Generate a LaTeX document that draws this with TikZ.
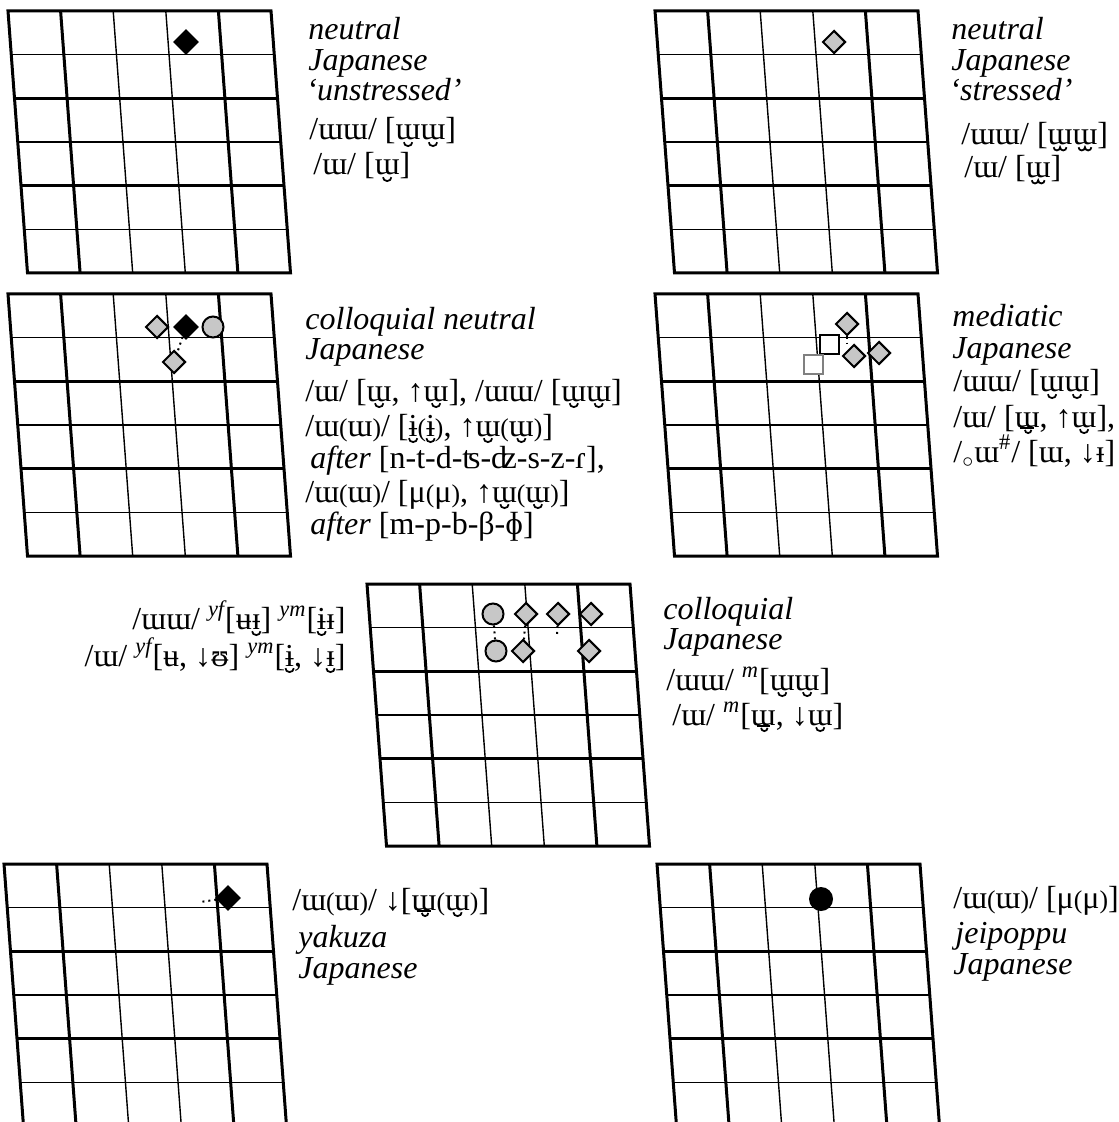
\documentclass[tikz,border=0pt]{standalone}
\usepackage{fontspec}
\setmainfont{Liberation Serif}
\usetikzlibrary{shapes.geometric, positioning}

\tikzset{
  gridthick/.style={line width=1.5pt},
  gridthin/.style={line width=0.7pt},
  vlabel/.style={anchor=base west, inner sep=0pt, font=\fontsize{16}{19}\selectfont\itshape},
  ipa/.style={anchor=base west, inner sep=0pt, font=\fontsize{16}{19}\selectfont},
  blackd/.style={diamond, fill=black, inner sep=0pt, minimum size=13pt},
  grayd/.style={diamond, draw, line width=1pt, fill=black!22, inner sep=0pt, minimum size=11.5pt},
  grayc/.style={circle, draw, line width=1pt, fill=black!22, inner sep=0pt, minimum size=10.5pt},
  blackc/.style={circle, fill=black, inner sep=0pt, minimum size=12pt},
  opens/.style={rectangle, draw, line width=1pt, fill=white, inner sep=0pt, minimum size=9.5pt},
  grays/.style={rectangle, draw=black!50, line width=1pt, fill=white, inner sep=0pt, minimum size=9.5pt},
  dotline/.style={line width=1pt, dash pattern=on 1pt off 2pt},
  diac/.style={line width=0.055em},
}

% skewed 5x6 vowel chart, origin at its top left corner
\newcommand{\vowelgrid}{%
  \foreach \i in {2,3}
    \draw[gridthin] (\i*52.6,0) -- (\i*52.6+19.5,262);
  \foreach \j in {1,3,5}
    \draw[gridthin] (\j*3.25,\j*43.67) -- (\j*3.25+263,\j*43.67);
  \foreach \i in {1,4}
    \draw[gridthick] (\i*52.6,0) -- (\i*52.6+19.5,262);
  \foreach \j in {2,4}
    \draw[gridthick] (\j*3.25,\j*43.67) -- (\j*3.25+263,\j*43.67);
  \draw[gridthick] (0,0) -- (263,0) -- (282.5,262) -- (19.5,262) -- cycle;
}
\newcommand{\smpar}[1]{\scalebox{0.8}{#1}}
% marks below a letter: breve, double breve, bar with breve
\newcommand{\cupb}[1]{\ooalign{#1\cr\hidewidth\tikz[baseline=0.07em, x=1em, y=1em]
  \draw[diac] (0,0) arc (180:360:0.13 and 0.12);\hidewidth\cr}}
\newcommand{\wb}[1]{\ooalign{#1\cr\hidewidth\tikz[baseline=0.07em, x=1em, y=1em]
  \draw[diac] (0,0) arc (180:360:0.1 and 0.1) arc (180:360:0.1 and 0.1);\hidewidth\cr}}
\newcommand{\barb}[1]{\ooalign{#1\cr\hidewidth\tikz[baseline=0.02em, x=1em, y=1em]
  {\draw[diac] (-0.08,0) -- (0.34,0); \draw[diac] (0.06,-0.07) arc (180:360:0.1 and 0.1);}\hidewidth\cr}}

\begin{document}
\begin{tikzpicture}[x=0.5pt, y=-0.5pt]
\clip (0,0) rectangle (1118,1122);

% neutral, unstressed
\begin{scope}[shift={(8,11)}]
  \vowelgrid
  \node[blackd] (nu) at (178,31) {};
\end{scope}
\node[vlabel] (nuA) at (308,40) {neutral};
\node[vlabel] (nuB) at (308,71) {Japanese};
\node[vlabel] (nuC) at (306,101) {‘unstressed’};
\node[ipa] (nuD) at (309,140) {/ɯɯ/ [\cupb{ɯ}\cupb{ɯ}]};
\node[ipa] (nuE) at (313,175) {/ɯ/ [\cupb{ɯ}]};

% neutral, stressed
\begin{scope}[shift={(655,11)}]
  \vowelgrid
  \node[grayd] (ns) at (179,31) {};
\end{scope}
\node[vlabel] (nsA) at (951,40) {neutral};
\node[vlabel] (nsB) at (951,71) {Japanese};
\node[vlabel] (nsC) at (949,101) {‘stressed’};
\node[ipa] (nsD) at (961,145) {/ɯɯ/ [\wb{ɯ}\wb{ɯ}]};
\node[ipa] (nsE) at (964,178) {/ɯ/ [\wb{ɯ}]};

% colloquial neutral
\begin{scope}[shift={(8,294)}]
  \vowelgrid
  \node[grayd] (cnA) at (149,33) {};
  \node[blackd] (cnB) at (178,33) {};
  \node[grayc] (cnC) at (205,33) {};
  \node[grayd] (cnD) at (166,68) {};
  \draw[dotline] (cnB) -- (cnD);
\end{scope}
\node[vlabel] (cnT1) at (305,330) {colloquial neutral};
\node[vlabel] (cnT2) at (305,360) {Japanese};
\node[ipa] (cnT3) at (305,401) {/ɯ/ [\cupb{ɯ}, ↑\cupb{ɯ}], /ɯɯ/ [\cupb{ɯ}\cupb{ɯ}]};
\node[ipa] (cnT4) at (305,436) {/ɯ\smpar{(}ɯ\smpar{)}/ [\cupb{ɨ}\smpar{(}\cupb{ɨ}\smpar{)}, ↑\cupb{ɯ}\smpar{(}\cupb{ɯ}\smpar{)}]};
\node[ipa] (cnT5) at (310,468) {\textit{after} [n-t-d-ʦ-ʣ-s-z-ɾ],};
\node[ipa] (cnT6) at (305,502) {/ɯ\smpar{(}ɯ\smpar{)}/ [μ\smpar{(}μ\smpar{)}, ↑\cupb{ɯ}\smpar{(}\cupb{ɯ}\smpar{)}]};
\node[ipa] (cnT7) at (310,534) {\textit{after} [m-p-b-β-ɸ]};

% mediatic
\begin{scope}[shift={(655,294)}]
  \vowelgrid
  \node[grayd] (mdA) at (192,30) {};
  \node[opens] (mdB) at (174,51) {};
  \node[grays] (mdC) at (158,71) {};
  \node[grayd] (mdD) at (199,62) {};
  \node[grayd] (mdE) at (224,59) {};
  \coordinate (mdT) at (192,50);
  \draw[dotline] (mdA) -- (mdT);
\end{scope}
\node[vlabel] (mdT1) at (952,327) {mediatic};
\node[vlabel] (mdT2) at (952,358) {Japanese};
\node[ipa] (mdT3) at (953,392) {/ɯɯ/ [\cupb{ɯ}\cupb{ɯ}]};
\node[ipa] (mdT4) at (953,427) {/ɯ/ [\barb{ɯ}, ↑\cupb{ɯ}],};
\node[ipa] (mdT5) at (953,462) {/\textsubscript{$\circ$}ɯ\textsuperscript{\#}/ [ɯ, ↓ᵻ]};

% colloquial
\begin{scope}[shift={(367,584)}]
  \vowelgrid
  \node[grayc] (cqA) at (126,30) {};
  \node[grayd] (cqB) at (159,30) {};
  \node[grayd] (cqC) at (191,30) {};
  \node[grayd] (cqD) at (224,30) {};
  \node[grayc] (cqE) at (129,67) {};
  \node[grayd] (cqF) at (156,67) {};
  \node[grayd] (cqG) at (222,67) {};
  \coordinate (cqT) at (190,53);
  \draw[dotline] (cqA) -- (cqE);
  \draw[dotline] (cqB) -- (cqF);
  \draw[dotline] (cqC) -- (cqT);
\end{scope}
\node[ipa, anchor=base east] (cqL1) at (346,629) {/ɯɯ/ \textsuperscript{\itshape yf}[ʉ\cupb{ᵻ}] \textsuperscript{\itshape ym}[\cupb{ɨ}ᵻ]};
\node[ipa, anchor=base east] (cqL2) at (346,666) {/ɯ/ \textsuperscript{\itshape yf}[ʉ, ↓ᵿ] \textsuperscript{\itshape ym}[\cupb{ɨ}, ↓\cupb{ᵻ}]};
\node[vlabel] (cqR1) at (663,619) {colloquial};
\node[vlabel] (cqR2) at (663,649) {Japanese};
\node[ipa] (cqR3) at (666,690) {/ɯɯ/ \textsuperscript{\itshape m}[\cupb{ɯ}\cupb{ɯ}]};
\node[ipa] (cqR4) at (672,725) {/ɯ/ \textsuperscript{\itshape m}[\barb{ɯ}, ↓\cupb{ɯ}]};

% yakuza
\begin{scope}[shift={(4,864)}]
  \vowelgrid
  \node[blackd] (yk) at (224,34) {};
  \coordinate (ykT) at (196,38);
  \draw[dotline] (yk) -- (ykT);
\end{scope}
\node[ipa] (ykA) at (292,910) {/ɯ\smpar{(}ɯ\smpar{)}/ ↓[\barb{ɯ}\smpar{(}\cupb{ɯ}\smpar{)}]};
\node[vlabel] (ykB) at (298,947) {yakuza};
\node[vlabel] (ykC) at (298,978) {Japanese};

% jeipoppu
\begin{scope}[shift={(657,864)}]
  \vowelgrid
  \node[blackc] (jp) at (164,35) {};
\end{scope}
\node[ipa] (jpA) at (953,908) {/ɯ\smpar{(}ɯ\smpar{)}/ [μ\smpar{(}μ\smpar{)}]};
\node[vlabel] (jpB) at (955,943) {jeipoppu};
\node[vlabel] (jpC) at (953,974) {Japanese};
\end{tikzpicture}
\end{document}
